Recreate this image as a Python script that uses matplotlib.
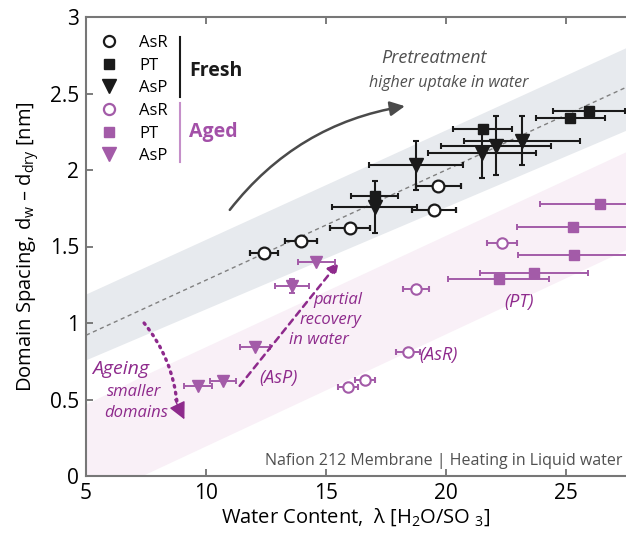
import numpy as np
import matplotlib
matplotlib.use('Agg')
from matplotlib import pyplot as plt
from matplotlib.lines import Line2D

plt.rcParams['font.family'] = ['Open Sans', 'DejaVu Sans']
plt.rcParams['mathtext.default'] = 'regular'

# Fresh membranes (black)
fresh_asr_x = [12.42, 13.96, 16.0, 19.5, 19.67]
fresh_asr_y = [1.46, 1.535, 1.62, 1.74, 1.895]
fresh_asr_xerr = [0.58, 0.65, 0.83, 0.92, 0.94]

fresh_pt_x = [17.04, 21.54, 25.17, 25.96]
fresh_pt_y = [1.83, 2.27, 2.34, 2.385]
fresh_pt_xerr = [0.98, 1.23, 1.44, 1.5]

fresh_asp_x = [17.04, 18.75, 21.5, 22.1, 23.17]
fresh_asp_y = [1.76, 2.03, 2.11, 2.16, 2.19]
fresh_asp_xerr = [1.77, 1.94, 2.23, 2.29, 2.4]
fresh_asp_yerr = [0.17, 0.16, 0.16, 0.19, 0.16]

# Aged membranes (purple)
aged_asr_x = [15.92, 16.63, 18.42, 18.75, 22.33]
aged_asr_y = [0.58, 0.63, 0.81, 1.22, 1.52]
aged_asr_xerr = [0.42, 0.43, 0.5, 0.53, 0.61]

aged_pt_x = [22.2, 23.67, 25.3, 25.33, 26.4]
aged_pt_y = [1.29, 1.33, 1.63, 1.445, 1.78]
aged_pt_xerr = [2.1, 2.25, 2.33, 2.33, 2.5]

aged_asp_x = [9.67, 10.7, 12.04, 13.58, 14.6]
aged_asp_y = [0.59, 0.62, 0.84, 1.24, 1.40]
aged_asp_xerr = [0.57, 0.55, 0.63, 0.72, 0.76]
aged_asp_yerr = [0, 0, 0, 0.045, 0]

# shaded bands and guide line (end points)
band_x = [5, 27.5]
fresh_band_lo = [0.76, 2.26]
fresh_band_hi = [1.19, 2.80]
aged_band_x = [5, 7.3, 27.5]
aged_band_lo = [0.0, 0.0, 1.48]
aged_band_hi = [0.47, 0.65, 2.12]
guide_y = [0.92, 2.54]

black = '#1a1a1a'
purple = '#a35ba8'
dark_purple = '#8e2a8c'
grey_txt = '#505050'

fig = plt.figure(figsize=(6.26, 5.37), dpi=100)
ax = fig.add_axes([86/626, 1 - 476/537, 1 - 86/626, (476 - 17)/537])

ax.fill_between(band_x, fresh_band_lo, fresh_band_hi, color='#e7eaee', lw=0, zorder=0)
ax.fill_between(aged_band_x, aged_band_lo, aged_band_hi, color='#f9f0f7', lw=0, zorder=0)
ax.plot(band_x, guide_y, color='#808080', lw=1, dashes=(3, 2.5), zorder=1)

eb = dict(capsize=2.5, elinewidth=1.5, capthick=1.5, ls='none', zorder=3)
ax.errorbar(fresh_asr_x, fresh_asr_y, xerr=fresh_asr_xerr, fmt='o', ms=8.5,
            mfc='white', mec=black, mew=1.6, ecolor=black, **eb)
ax.errorbar(fresh_asp_x, fresh_asp_y, xerr=fresh_asp_xerr, yerr=fresh_asp_yerr,
            fmt='v', ms=10, color=black, ecolor=black, **eb)
ax.errorbar(fresh_pt_x, fresh_pt_y, xerr=fresh_pt_xerr, fmt='s', ms=7.5,
            color=black, ecolor=black, **eb)

ebp = dict(capsize=2.5, elinewidth=1.4, capthick=1.4, ls='none', zorder=3)
ax.errorbar(aged_asr_x, aged_asr_y, xerr=aged_asr_xerr, fmt='o', ms=7.5,
            mfc='white', mec=purple, mew=1.5, ecolor=purple, **ebp)
ax.errorbar(aged_pt_x, aged_pt_y, xerr=aged_pt_xerr, fmt='s', ms=7.5,
            color=purple, ecolor=purple, **ebp)
ax.errorbar(aged_asp_x, aged_asp_y, xerr=aged_asp_xerr, yerr=aged_asp_yerr,
            fmt='v', ms=9, color=purple, ecolor=purple, **ebp)

ax.set_xlim(5, 27.5)
ax.set_ylim(0, 3)
ax.set_xticks([5, 10, 15, 20, 25])
ax.set_yticks([0, 0.5, 1, 1.5, 2, 2.5, 3])
ax.set_yticklabels(['0', '0.5', '1', '1.5', '2', '2.5', '3'])
ax.tick_params(direction='in', labelsize=15, length=5, width=1.2, color='#666666',
               top=True, right=False, pad=5)
for s in ['left', 'bottom', 'top']:
    ax.spines[s].set_color('#777777')
    ax.spines[s].set_linewidth(1.5)
ax.spines['right'].set_visible(False)
ax.set_xlabel('Water Content,  λ [H$_2$O/SO $_3$]', fontsize=14.5, labelpad=2)
ax.set_ylabel('Domain Spacing, d$_w$ – d$_{dry}$ [nm]', fontsize=14.5, labelpad=6)

# legend with group brackets
handles = [
    Line2D([], [], ls='none', marker='o', ms=8, mfc='white', mec=black, mew=1.6),
    Line2D([], [], ls='none', marker='s', ms=7, color=black),
    Line2D([], [], ls='none', marker='v', ms=10, color=black),
    Line2D([], [], ls='none', marker='o', ms=8, mfc='white', mec=purple, mew=1.6),
    Line2D([], [], ls='none', marker='s', ms=7, color=purple),
    Line2D([], [], ls='none', marker='v', ms=10, color=purple),
]
labels = ['AsR', 'PT', 'AsP', 'AsR', 'PT', 'AsP']
ax.legend(handles, labels, loc='upper left', bbox_to_anchor=(0.0, 0.99),
          frameon=False, fontsize=12, handlelength=1.2, handletextpad=1.2,
          labelspacing=0.4, borderpad=0.3)
ax.plot([8.9, 8.9], [2.48, 2.87], color=black, lw=1.5)
ax.plot([8.9, 8.9], [2.05, 2.44], color='#c58fc9', lw=1.5)
ax.text(9.3, 2.65, 'Fresh', fontsize=14, fontweight='bold', color=black, va='center')
ax.text(9.3, 2.25, 'Aged', fontsize=14, fontweight='bold', color='#a350a8', va='center')

# annotations
narrow = ['Liberation Sans Narrow', 'Open Sans', 'DejaVu Sans']
ax.text(19.5, 2.73, 'Pretreatment', fontsize=13, style='italic', color=grey_txt, ha='center', va='center')
ax.text(20.1, 2.57, 'higher uptake in water', fontsize=11.5, style='italic', color=grey_txt,
        ha='center', va='center', family=narrow)
ax.annotate('', xy=(18.4, 2.42), xytext=(10.92, 1.725),
            arrowprops=dict(arrowstyle='-|>', connectionstyle='arc3,rad=-0.2',
                            color='#4a4a4a', lw=1.8, mutation_scale=22))

ax.text(6.45, 0.70, 'Ageing', fontsize=14, style='italic', color=dark_purple, ha='center', va='center')
ax.text(7.0, 0.55, 'smaller', fontsize=12, style='italic', color=dark_purple, ha='center', va='center', family=narrow)
ax.text(7.1, 0.41, 'domains', fontsize=12, style='italic', color=dark_purple, ha='center', va='center', family=narrow)
# dotted curved body, then a solid head
ax.annotate('', xy=(8.8, 0.47), xytext=(7.42, 1.0),
            arrowprops=dict(arrowstyle='-', connectionstyle='arc3,rad=-0.15',
                            color=dark_purple, lw=2.4, ls=(0, (0.5, 1.6)), shrinkA=0, shrinkB=0))
ax.annotate('', xy=(9.1, 0.37), xytext=(8.7, 0.5),
            arrowprops=dict(arrowstyle='-|>', color=dark_purple, lw=1,
                            mutation_scale=26, shrinkA=0, shrinkB=0))

ax.annotate('', xy=(15.6, 1.41), xytext=(11.33, 0.575),
            arrowprops=dict(arrowstyle='-|>', color=dark_purple, lw=1.8,
                            ls=(0, (2.5, 2)), mutation_scale=16))
ax.text(15.5, 1.15, 'partial', fontsize=12, style='italic', color=dark_purple, ha='center', va='center', family=narrow)
ax.text(15.2, 1.02, 'recovery', fontsize=12, style='italic', color=dark_purple, ha='center', va='center', family=narrow)
ax.text(14.7, 0.89, 'in water', fontsize=12, style='italic', color=dark_purple, ha='center', va='center', family=narrow)

ax.text(13.0, 0.64, '(AsP)', fontsize=13, style='italic', color=dark_purple, ha='center', va='center')
ax.text(19.7, 0.79, '(AsR)', fontsize=13, style='italic', color=dark_purple, ha='center', va='center')
ax.text(23.05, 1.14, '(PT)', fontsize=13, style='italic', color=dark_purple, ha='center', va='center')

ax.text(27.35, 0.10, 'Nafion 212 Membrane | Heating in Liquid water', fontsize=11.5,
        color=grey_txt, ha='right', va='center')

fig.savefig('out.png', dpi=100)
